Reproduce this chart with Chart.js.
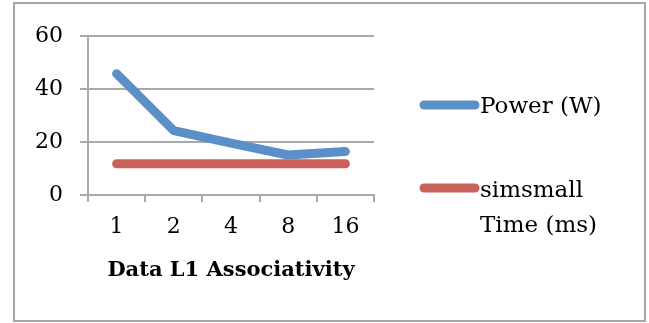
<!DOCTYPE html>
<html>
<head>
<meta charset="utf-8">
<script src="https://cdn.jsdelivr.net/npm/chart.js@4/dist/chart.umd.min.js"></script>
<style>
  html, body { margin: 0; padding: 0; background: #ffffff; }
  #wrap { position: relative; width: 649px; height: 323px; }
</style>
</head>
<body>
<div id="wrap"><canvas id="c" width="649" height="323"></canvas></div>
<script>
// Associativity settings on the x axis
const categories = ['1', '2', '4', '8', '16'];
// Series values
const powerW = [45.8, 24.3, 19.6, 15.1, 16.4];
const simsmallTimeMs = [11.8, 11.8, 11.8, 11.8, 11.8];
// Axis labels
const yTicks = [0, 20, 40, 60];
const xTitle = 'Data L1 Associativity';
const seriesNames = ['Power (W)', ['simsmall', 'Time (ms)']];

const FONT = "'DejaVu Serif', 'Liberation Serif', serif";
const BLUE = '#5b8fc7';
const RED = '#c9605a';
const GRID = '#a9a9a9';

// Outer frame and a right-hand legend drawn on the canvas
const framePlugin = {
  id: 'frameAndLegend',
  beforeDraw(chart) {
    const ctx = chart.ctx;
    ctx.save();
    ctx.fillStyle = '#ffffff';
    ctx.fillRect(0, 0, chart.width, chart.height);
    ctx.strokeStyle = '#a6a6a6';
    ctx.lineWidth = 2;
    ctx.strokeRect(14, 3, 631, 318);
    ctx.restore();
  },
  afterDraw(chart) {
    const ctx = chart.ctx;
    const rows = [
      { y: 105, textY: [107] },
      { y: 188, textY: [191, 226] }
    ];
    ctx.save();
    chart.data.datasets.forEach((ds, i) => {
      const r = rows[i];
      ctx.strokeStyle = ds.borderColor;
      ctx.lineWidth = 9;
      ctx.lineCap = 'round';
      ctx.beginPath();
      ctx.moveTo(424, r.y);
      ctx.lineTo(475, r.y);
      ctx.stroke();
      ctx.fillStyle = '#000000';
      ctx.font = '23px ' + FONT;
      ctx.textBaseline = 'middle';
      ctx.textAlign = 'left';
      const lines = Array.isArray(ds.label) ? ds.label : [ds.label];
      lines.forEach((t, k) => ctx.fillText(t, 480, r.textY[k]));
    });
    ctx.restore();
  }
};

new Chart(document.getElementById('c'), {
  type: 'line',
  data: {
    labels: categories,
    datasets: [
      {
        label: seriesNames[0],
        data: powerW,
        borderColor: BLUE,
        backgroundColor: BLUE,
        borderWidth: 9,
        borderCapStyle: 'round',
        borderJoinStyle: 'round',
        pointRadius: 0,
        tension: 0
      },
      {
        label: seriesNames[1],
        data: simsmallTimeMs,
        borderColor: RED,
        backgroundColor: RED,
        borderWidth: 9,
        borderCapStyle: 'round',
        borderJoinStyle: 'round',
        pointRadius: 0,
        tension: 0
      }
    ]
  },
  options: {
    responsive: false,
    animation: false,
    events: [],
    layout: { padding: { left: 13, right: 275, top: 36, bottom: 0 } },
    plugins: {
      legend: { display: false },
      tooltip: { enabled: false },
      title: { display: false }
    },
    scales: {
      x: {
        offset: true,
        grid: {
          display: true,
          drawOnChartArea: false,
          drawTicks: true,
          tickLength: 7,
          color: GRID,
          lineWidth: 2,
          offset: true
        },
        border: { display: true, color: GRID, width: 2 },
        ticks: {
          color: '#000000',
          font: { family: FONT, size: 22 },
          padding: 12,
          maxRotation: 0
        },
        title: {
          display: true,
          text: xTitle,
          color: '#000000',
          font: { family: FONT, size: 21, weight: 'bold' },
          padding: { top: 0, bottom: 40 }
        },
        afterFit(scale) { scale.height = 128; }
      },
      y: {
        min: 0,
        max: 60,
        afterBuildTicks(scale) { scale.ticks = yTicks.map(v => ({ value: v })); },
        grid: {
          color: GRID,
          lineWidth: 2,
          tickLength: 8,
          drawTicks: true
        },
        border: { display: true, color: GRID, width: 2 },
        ticks: {
          color: '#000000',
          font: { family: FONT, size: 22 },
          padding: 17
        },
        afterFit(scale) { scale.width = 75; }
      }
    }
  },
  plugins: [framePlugin]
});
</script>
</body>
</html>
